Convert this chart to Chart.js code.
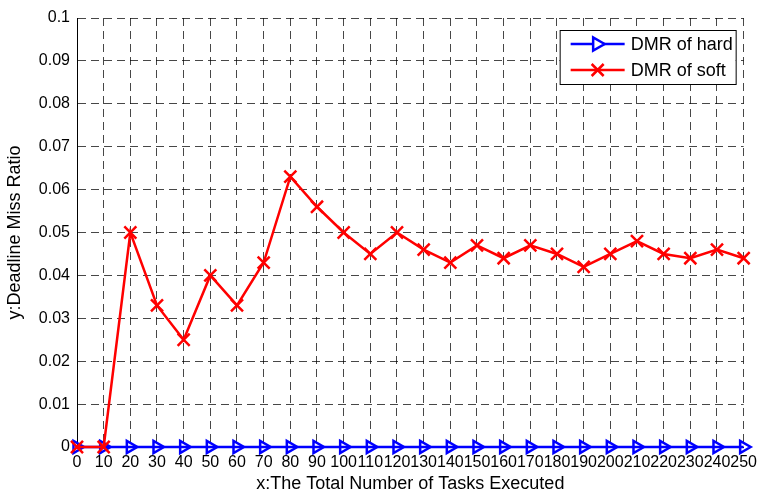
<!DOCTYPE html>
<html><head><meta charset="utf-8">
<script src="https://cdn.jsdelivr.net/npm/chart.js@4.4.0/dist/chart.umd.min.js"></script>
<style>html,body{margin:0;padding:0;background:#fff;}#wrap{width:763px;height:493px;}</style>
</head><body><div id="wrap"><canvas id="c" width="763" height="493"></canvas></div>
<script>
const xValues = [0,10,20,30,40,50,60,70,80,90,100,110,120,130,140,150,160,170,180,190,200,210,220,230,240,250];
const hardDMR = [0,0,0,0,0,0,0,0,0,0,0,0,0,0,0,0,0,0,0,0,0,0,0,0,0,0];
const softDMR = [0,0,0.05,0.033,0.025,0.04,0.033,0.043,0.063,0.056,0.05,0.045,0.05,0.046,0.043,0.047,0.044,0.047,0.045,0.042,0.045,0.048,0.045,0.044,0.046,0.044];
const seriesNames = ['DMR of hard','DMR of soft'];
const xTitle = 'x:The Total Number of Tasks Executed';
const yTitle = 'y:Deadline Miss Ratio';

const FONT = "'Liberation Sans', Arial, Helvetica, sans-serif";

function pts(vals){ return xValues.map((x,i)=>({x:x,y:vals[i]})); }

const legendPlugin = {
  id:'boxLegend',
  afterDatasetsDraw(chart){
    const ctx = chart.ctx, a = chart.chartArea;
    const right = a.right - 8, left = right - 176, top = a.top + 12, h = 54;
    ctx.save();
    ctx.fillStyle = '#fff'; ctx.fillRect(left, top, right-left, h);
    ctx.strokeStyle = '#000'; ctx.lineWidth = 1; ctx.setLineDash([]);
    ctx.strokeRect(left+0.5, top+0.5, right-left, h);
    const rows = [top+14, top+40];
    chart.data.datasets.forEach((ds, i) => {
      const y = rows[i];
      ctx.strokeStyle = ds.borderColor; ctx.lineWidth = 2.5;
      ctx.beginPath(); ctx.moveTo(left+11, y); ctx.lineTo(left+65, y); ctx.stroke();
      const cx = left+38;
      ctx.beginPath();
      if (i === 0) {
        ctx.moveTo(cx+7, y); ctx.lineTo(cx-4.5, y-6.5); ctx.lineTo(cx-4.5, y+6.5); ctx.closePath();
        ctx.fillStyle='#fff'; ctx.fill();
      } else {
        ctx.moveTo(cx-6,y-6); ctx.lineTo(cx+6,y+6); ctx.moveTo(cx+6,y-6); ctx.lineTo(cx-6,y+6);
      }
      ctx.stroke();
      ctx.fillStyle = '#000'; ctx.font = '18px ' + FONT; ctx.textBaseline = 'middle'; ctx.textAlign='left';
      ctx.fillText(ds.label, left+71, y+1);
    });
    ctx.restore();
  }
};

new Chart(document.getElementById('c'), {
  type:'line',
  data:{ datasets:[
    { label:seriesNames[0], data:pts(hardDMR), borderColor:'#0000ff', backgroundColor:'rgba(0,0,0,0)',
      borderWidth:2.5, pointStyle:'triangle', rotation:90, pointRadius:7, pointBorderWidth:2.5,
      pointBackgroundColor:'rgba(0,0,0,0)', pointBorderColor:'#0000ff', clip:false, order:1, tension:0 },
    { label:seriesNames[1], data:pts(softDMR), borderColor:'#ff0000', backgroundColor:'rgba(0,0,0,0)',
      borderWidth:2.5, pointStyle:'crossRot', pointRadius:8.5, pointBorderWidth:2.5,
      pointBorderColor:'#ff0000', clip:false, order:0, tension:0 }
  ]},
  options:{
    responsive:false, devicePixelRatio:1, animation:false,
    layout:{ padding:{ top:18, right:15, left:0, bottom:0 } },
    plugins:{ legend:{display:false}, tooltip:{enabled:false} },
    scales:{
      x:{ type:'linear', min:0, max:250,
        ticks:{ stepSize:10, autoSkip:false, maxRotation:0, minRotation:0, padding:6, color:'#000',
          font:{ family:FONT, size:16 }, callback:v=>String(v) },
        grid:{ color:'rgba(0,0,0,0.72)', lineWidth:1, drawTicks:false },
        border:{ display:true, color:'#000', width:1, dash:[8,5] },
        title:{ display:true, text:xTitle, color:'#000', font:{family:FONT, size:18, lineHeight:1}, padding:{top:2,bottom:0} },
        afterFit(s){ s.height = 46; }
      },
      y:{ min:0, max:0.1,
        ticks:{ stepSize:0.01, padding:7, color:'#000', font:{ family:FONT, size:16 },
          callback:v=>String(+v.toFixed(2)) },
        grid:{ color:'rgba(0,0,0,0.72)', lineWidth:1, drawTicks:false },
        border:{ display:true, color:'#000', width:1, dash:[8,5] },
        title:{ display:true, text:yTitle, color:'#000', font:{family:FONT, size:18, lineHeight:1}, padding:{top:6,bottom:0} },
        afterFit(s){ s.width = 77; }
      }
    }
  },
  plugins:[legendPlugin]
});
</script>
</body></html>
